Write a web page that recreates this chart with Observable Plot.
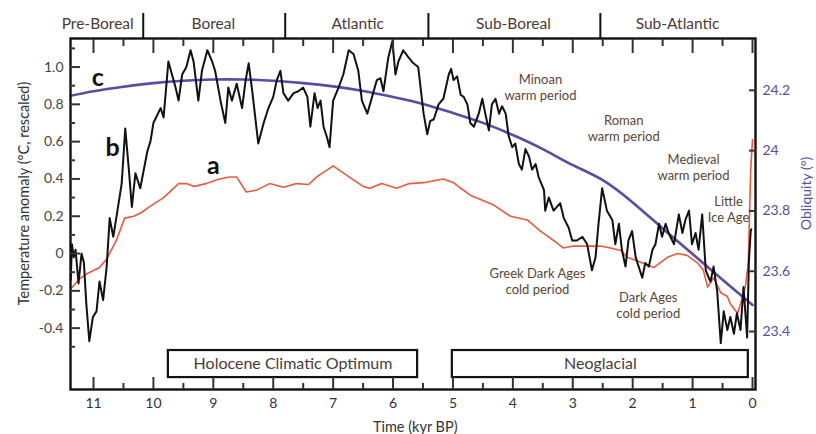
<!DOCTYPE html>
<html><head><meta charset="utf-8">
<script src="https://cdn.jsdelivr.net/npm/d3@7"></script>
<script src="https://cdn.jsdelivr.net/npm/@observablehq/plot@0.6"></script>
<style>body{margin:0;background:#fff;} svg{overflow:visible;}</style>
</head><body><div id="chart"></div>
<script>
// ---- Data (kyr BP, temperature anomaly °C rescaled, obliquity °) ----
const proxyAge = [11.38,11.36,11.33,11.30,11.25,11.20,11.16,11.12,11.07,11.01,10.95,10.90,10.84,10.78,10.73,10.67,10.62,10.53,10.47,10.41,10.36,10.30,10.22,10.10,10.05,10.00,9.88,9.83,9.75,9.69,9.63,9.58,9.52,9.45,9.38,9.33,9.25,9.19,9.10,9.02,8.97,8.88,8.80,8.75,8.69,8.61,8.52,8.46,8.41,8.35,8.30,8.25,8.16,8.08,8.00,7.94,7.88,7.83,7.75,7.66,7.58,7.50,7.43,7.38,7.31,7.26,7.21,7.16,7.10,7.06,7.00,6.91,6.83,6.74,6.66,6.58,6.52,6.43,6.35,6.27,6.21,6.16,6.08,6.01,5.96,5.91,5.83,5.74,5.66,5.58,5.49,5.43,5.38,5.32,5.24,5.16,5.07,5.03,4.99,4.93,4.87,4.82,4.76,4.71,4.65,4.57,4.51,4.46,4.40,4.35,4.29,4.23,4.18,4.12,4.07,4.01,3.96,3.90,3.85,3.79,3.73,3.68,3.62,3.57,3.48,3.46,3.40,3.32,3.21,3.15,3.07,3.01,2.93,2.84,2.76,2.68,2.62,2.57,2.51,2.43,2.34,2.29,2.23,2.18,2.12,2.07,2.01,1.95,1.90,1.84,1.79,1.73,1.67,1.62,1.56,1.51,1.45,1.40,1.31,1.23,1.17,1.12,1.06,1.01,0.95,0.90,0.84,0.78,0.73,0.70,0.65,0.59,0.53,0.48,0.42,0.37,0.31,0.26,0.20,0.15,0.09,0.06,0.03,0.02];
const proxyTemp = [-0.14,0.05,-0.02,0.02,-0.16,0.00,-0.05,-0.27,-0.47,-0.34,-0.31,-0.15,-0.25,-0.07,0.19,0.09,0.19,0.375,0.67,0.45,0.25,0.43,0.35,0.55,0.60,0.70,0.78,0.73,1.03,0.96,0.89,0.82,0.96,1.00,1.09,1.03,0.82,0.98,1.09,1.03,0.98,0.82,0.70,0.89,0.82,0.91,0.78,0.93,1.02,0.87,0.73,0.59,0.70,0.78,0.84,0.93,0.98,0.86,0.82,0.86,0.87,0.89,0.84,0.68,0.86,0.78,0.82,0.68,0.62,0.57,0.82,0.89,0.96,1.09,1.07,0.98,0.82,0.75,0.84,0.93,0.94,0.87,1.05,1.14,0.96,1.03,1.09,1.05,1.02,1.00,0.75,0.64,0.71,0.72,0.80,0.83,0.96,0.99,0.93,0.95,0.85,0.84,0.80,0.70,0.68,0.75,0.83,0.75,0.66,0.80,0.83,0.75,0.79,0.75,0.63,0.57,0.59,0.48,0.45,0.56,0.52,0.45,0.48,0.41,0.34,0.23,0.30,0.23,0.27,0.19,0.14,0.07,0.07,0.09,0.05,-0.09,-0.02,0.16,0.35,0.23,0.18,0.05,0.16,0.02,-0.07,0.07,0.12,-0.02,-0.07,-0.13,-0.05,-0.07,0.02,0.05,0.16,0.09,0.16,0.11,0.05,0.21,0.11,0.18,0.23,0.05,0.11,0.02,0.21,-0.09,-0.13,-0.15,-0.07,-0.20,-0.48,-0.31,-0.41,-0.34,-0.43,-0.32,-0.41,-0.18,-0.45,-0.04,0.12,0.13];

const modelAge = [11.38,11.25,11.12,10.90,10.78,10.62,10.48,10.33,10.20,10.07,9.83,9.58,9.45,9.32,9.12,8.90,8.73,8.61,8.45,8.28,8.06,7.83,7.61,7.41,7.28,7.00,6.73,6.50,6.39,6.19,5.94,5.73,5.49,5.16,4.99,4.87,4.70,4.54,4.32,4.04,3.76,3.54,3.32,3.16,2.99,2.65,2.54,2.37,2.20,2.09,1.92,1.65,1.42,1.25,1.09,0.92,0.82,0.75,0.65,0.53,0.42,0.37,0.25,0.20,0.12,0.07,0.03,0.00];
const modelTemp = [-0.19,-0.14,-0.11,-0.075,-0.03,0.07,0.19,0.20,0.22,0.25,0.30,0.375,0.375,0.36,0.375,0.40,0.41,0.41,0.33,0.34,0.375,0.355,0.375,0.37,0.41,0.47,0.41,0.36,0.35,0.375,0.35,0.375,0.38,0.40,0.38,0.35,0.31,0.29,0.26,0.20,0.18,0.12,0.07,0.03,0.04,0.04,0.04,0.03,0.016,-0.02,-0.04,-0.075,-0.02,0.00,-0.01,-0.05,-0.09,-0.18,-0.13,-0.21,-0.23,-0.27,-0.32,-0.27,-0.18,-0.05,0.45,0.61];

const obliquityAge = [11.38,11,10.5,10,9.5,9,8.5,8,7.5,7,6.5,6,5.5,5,4.5,4,3.5,3,2.5,2,1.5,1,0.5,0];
const obliquityDeg = [24.182,24.197,24.212,24.224,24.232,24.236,24.236,24.232,24.224,24.213,24.198,24.178,24.155,24.125,24.092,24.052,24.005,23.952,23.902,23.828,23.742,23.657,23.572,23.488];

const tempTicks = [-0.4,-0.2,0,0.2,0.4,0.6,0.8,1.0];
const tempMinorTicks = [-0.5,-0.3,-0.1,0.1,0.3,0.5,0.7,0.9,1.1];
const obliquityTicks = [23.4,23.6,23.8,24.0,24.2];
const obliquityTickLabels = ["23.4","23.6","23.8","24","24.2"];
const timeTicks = [0,1,2,3,4,5,6,7,8,9,10,11];
const timeMinorTicks = [0.5,1.5,2.5,3.5,4.5,5.5,6.5,7.5,8.5,9.5,10.5];

const periodNames = ["Pre-Boreal","Boreal","Atlantic","Sub-Boreal","Sub-Atlantic"];
const periodLabelAge = [10.93,9.0,6.59,3.99,1.25];
const periodBoundaries = [10.17,7.8,5.41,2.54];

const phaseNames = ["Holocene Climatic Optimum","Neoglacial"];
const phaseStart = [9.75,5.01];
const phaseEnd = [5.59,0.07];

const eventLabels = ["Minoan\nwarm period","Roman\nwarm period","Medieval\nwarm period","Little\nIce Age","Greek Dark Ages\ncold period","Dark Ages\ncold period"];
const eventAge = [3.54,2.15,0.985,0.40,3.59,1.74];
const eventTemp = [0.893,0.673,0.464,0.239,-0.145,-0.276];

const seriesLetters = ["a","b","c"];
const letterAge = [9.0,10.68,10.93];
const letterTemp = [0.472,0.568,0.941];

// ---- scale setup ----
const xDomain = [11.384,-0.05];
const yDomain = [-0.729,1.153];
// obliquity axis mapped onto the temperature scale
const oblRef = 23.4, oblRefTemp = -0.4182, tempPerDeg = 1.6166;
const oblToTemp = o => (o - oblRef) * tempPerDeg + oblRefTemp;

const proxy = proxyAge.map((a,i)=>({age:a,temp:proxyTemp[i]}));
const model = modelAge.map((a,i)=>({age:a,temp:modelTemp[i]}));
const obliquity = obliquityAge.map((a,i)=>({age:a,temp:oblToTemp(obliquityDeg[i])}));
const periods = periodNames.map((n,i)=>({name:n,age:periodLabelAge[i]}));
const phases = phaseNames.map((n,i)=>({name:n,x1:phaseStart[i],x2:phaseEnd[i]}));
const events = eventLabels.map((n,i)=>({name:n,age:eventAge[i],temp:eventTemp[i]}));
const letters = seriesLetters.map((n,i)=>({name:n,age:letterAge[i],temp:letterTemp[i]}));

const yTop = yDomain[1];
const periodLabelY = yTop + 14/186.5;
const periodRuleTop = yTop + 25/186.5;
const boxY1 = -0.520, boxY2 = -0.665;

const textCol = "#4a3b38";
const purple = "#5b4aa6";

const chart = Plot.plot({
  width: 816, height: 434,
  marginLeft: 70, marginRight: 61, marginTop: 38, marginBottom: 45,
  x: {domain: xDomain},
  y: {domain: yDomain},
  style: {fontFamily: "Lato, 'Open Sans', sans-serif", fontSize: "14px", background: "white", color: "#333"},
  marks: [
    Plot.line(model, {x:"age", y:"temp", stroke:"#f0583c", strokeWidth:1.6, curve:"linear"}),
    Plot.line(obliquity, {x:"age", y:"temp", stroke:purple, strokeWidth:2.6, curve:"natural"}),
    Plot.line(proxy, {x:"age", y:"temp", stroke:"#111", strokeWidth:2, strokeLinejoin:"round"}),
    // phase boxes
    Plot.rect(phases, {x1:"x1", x2:"x2", y1:boxY1, y2:boxY2, fill:"white", stroke:"#111", strokeWidth:2.2}),
    Plot.text(phases, {x:d=>(d.x1+d.x2)/2, y:(boxY1+boxY2)/2, text:"name", fontSize:16, fill:textCol}),
    // frame
    Plot.frame({stroke:"#111", strokeWidth:2.4}),
    // left axis
    Plot.axisY({anchor:"left", ticks:tempTicks, tickSize:0, tickPadding:7, tickFormat:d=>d===0?"0":d.toFixed(1), fill:"#444", fontSize:14, label:null}),
    Plot.axisY({anchor:"left", ticks:tempTicks, tickSize:-10, tickFormat:()=>"", strokeWidth:2, label:null}),
    Plot.axisY({anchor:"left", ticks:tempMinorTicks, tickSize:-5, tickFormat:()=>"", strokeWidth:2, label:null}),
    // right axis (obliquity)
    Plot.axisY({anchor:"right", ticks:obliquityTicks.map(oblToTemp), tickSize:0, tickPadding:7, tickFormat:(d,i)=>obliquityTickLabels[i], fill:purple, fontSize:14, label:null}),
    Plot.axisY({anchor:"right", ticks:obliquityTicks.map(oblToTemp), tickSize:-7, tickFormat:()=>"", strokeWidth:2, label:null}),
    // bottom axis
    Plot.axisX({anchor:"bottom", ticks:timeTicks, tickSize:0, tickPadding:9, tickFormat:d=>String(d), fill:"#333", fontSize:14, label:null}),
    Plot.axisX({anchor:"bottom", ticks:timeTicks, tickSize:-12, tickFormat:()=>"", strokeWidth:2, label:null}),
    Plot.axisX({anchor:"bottom", ticks:timeMinorTicks, tickSize:-6, tickFormat:()=>"", strokeWidth:2, label:null}),
    // top axis ticks
    Plot.axisX({anchor:"top", ticks:timeTicks, tickSize:-14, tickFormat:()=>"", strokeWidth:2, label:null}),
    Plot.axisX({anchor:"top", ticks:timeMinorTicks, tickSize:-7, tickFormat:()=>"", strokeWidth:2, label:null}),
    // period bar
    Plot.ruleX(periodBoundaries, {x:d=>d, y1:yTop, y2:periodRuleTop, stroke:"#111", strokeWidth:2}),
    Plot.text(periods, {x:"age", y:periodLabelY, text:"name", fontSize:15.5, fill:textCol}),
    // event annotations
    Plot.text(events, {x:"age", y:"temp", text:"name", fontSize:13, fill:"#5a4536", lineHeight:1.25}),
    // series letters
    Plot.text(letters, {x:"age", y:"temp", text:"name", fontSize:25, fontWeight:"bold", fill:"#111"}),
    // axis titles
    Plot.text(["Temperature anomaly (°C, rescaled)"], {frameAnchor:"left", y:0.322, dx:-46, rotate:-90, textAnchor:"middle", lineAnchor:"middle", fontSize:14.5, fill:"#333"}),
    Plot.text(["Obliquity (°)"], {frameAnchor:"right", y:0.322, dx:51, rotate:-90, textAnchor:"middle", lineAnchor:"middle", fontSize:14, fill:purple}),
    Plot.text(["Time (kyr BP)"], {frameAnchor:"bottom", x:5.63, dy:38, lineAnchor:"middle", fontSize:14.5, fill:"#333"})
  ]
});
document.getElementById("chart").appendChild(chart);
</script>
</body></html>
